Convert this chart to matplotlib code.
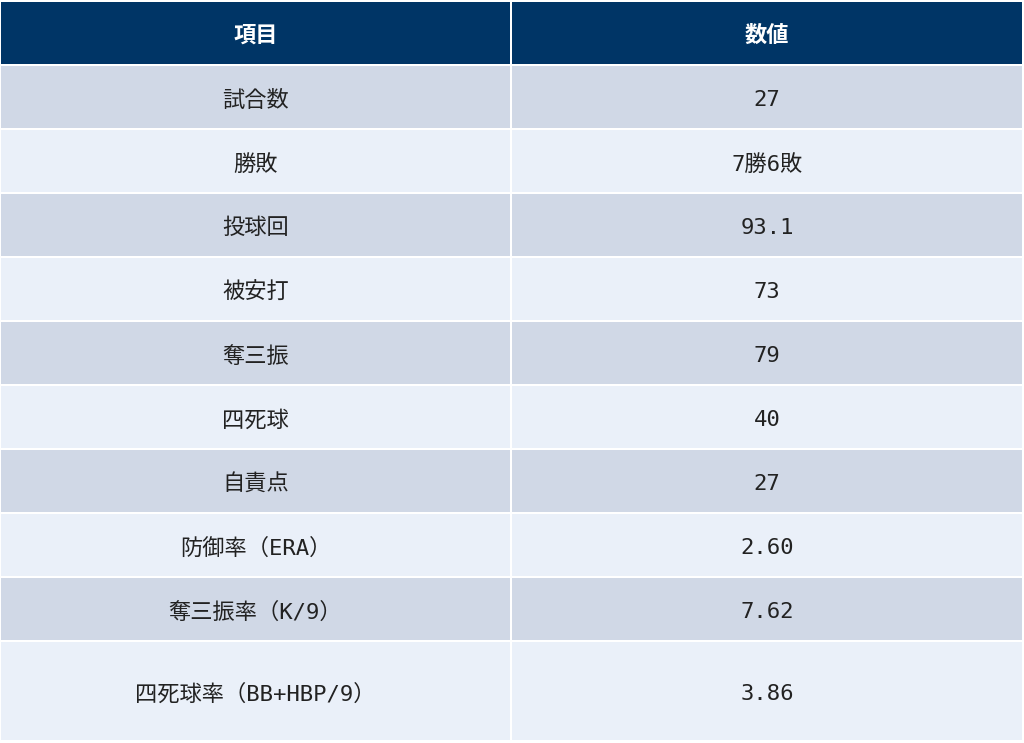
import matplotlib
matplotlib.use("Agg")
import matplotlib.pyplot as plt
from matplotlib.patches import Rectangle

plt.rcParams['font.family'] = ['Noto Sans CJK JP', 'DejaVu Sans']

headers = ["項目", "数値"]
items = ["試合数", "勝敗", "投球回", "被安打", "奪三振", "四死球", "自責点",
         "防御率（ERA）", "奪三振率（K/9）", "四死球率（BB+HBP/9）"]
values = ["27", "7勝6敗", "93.1", "73", "79", "40", "27", "2.60", "7.62", "3.86"]

W, H = 1024, 743
fig = plt.figure(figsize=(W/100, H/100), dpi=100)
ax = fig.add_axes([0, 0, 1, 1])
ax.set_xlim(0, W); ax.set_ylim(H, 0); ax.axis('off')

header_c = "#003566"
row_cs = ["#d0d8e6", "#eaf0f9"]
cols = [(1, 510), (512, 1022)]
heights = [62] + [62]*9 + [98]
mono = ['DejaVu Sans Mono', 'Noto Sans CJK JP']
y = 2
for i, h in enumerate(heights):
    for j, (x0, x1) in enumerate(cols):
        c = header_c if i == 0 else row_cs[(i-1) % 2]
        ax.add_patch(Rectangle((x0, y), x1-x0, h, facecolor=c, edgecolor='none'))
        if i == 0:
            ax.text((x0+x1)/2, y+h/2+2, headers[j], color='white', fontsize=16,
                    fontweight='bold', ha='center', va='center')
        else:
            txt = items[i-1] if j == 0 else values[i-1]
            ax.text((x0+x1)/2, y+h/2+3, txt, color='#222222', fontsize=16,
                    ha='center', va='center', family=mono)
    y += h + 2

fig.savefig("out.png", dpi=100, facecolor='white')
